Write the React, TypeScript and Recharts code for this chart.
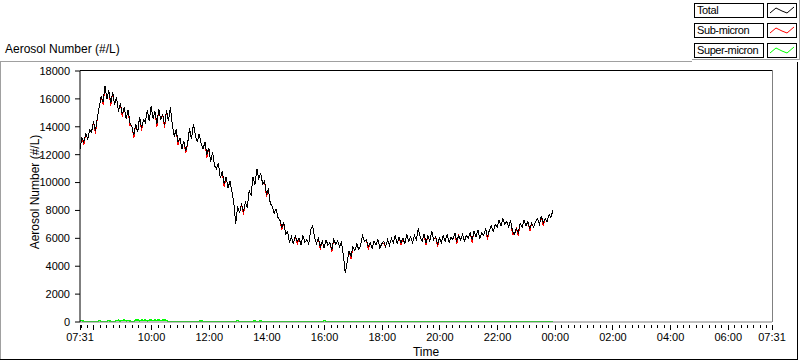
import React from 'react';
import { LineChart, Line, XAxis, YAxis } from 'recharts';

// one sample every 4 minutes, starting 07:31
const stepMinutes = 4;

const total = [
  12400, 13200, 12900, 13500, 13100, 13800, 13600, 14400, 13700, 14600,
  15400, 16200, 15800, 16900, 16000, 16600, 15700, 16500, 15600, 16100,
  15100, 15700, 14900, 15400, 14600, 15200, 14300, 14000, 13400, 14200,
  13600, 14700, 13900, 14500, 14300, 15200, 14400, 15500, 14600, 15100,
  14200, 15300, 14500, 14900, 14100, 15200, 14400, 15400, 14200, 13300,
  13800, 12900, 13200, 12400, 13000, 12300, 12800, 13900, 13100, 14200,
  13400, 12900, 13500, 12800, 12400, 12900, 12000, 12500, 11500, 12200,
  11200, 11000, 11400, 10300, 10800, 9900, 10400, 9600, 10100, 9400,
  8600, 7000, 8300, 7800, 8500, 7900, 8600, 8200, 9400, 9100,
  10400, 9800, 11000, 10300, 10700, 9900, 10100, 9200, 9500, 8500,
  8300, 7800, 8100, 7500, 7300, 6800, 7100, 6300, 6500, 5700,
  6100, 5600, 6200, 5800, 6000, 5500, 6200, 5700, 5900, 5600,
  6600, 6900, 6100, 5600, 6000, 5400, 5800, 5300, 5900, 5500,
  5700, 5200, 5900, 5600, 5800, 5400, 5700, 4800, 3500, 4300,
  5100, 4700, 5400, 5100, 5600, 5200, 5500, 6200, 5800, 5900,
  5400, 5700, 5300, 5800, 5500, 5900, 5300, 5600, 5800, 5400,
  5900, 5500, 6000, 5700, 6200, 5600, 6100, 5700, 6000, 5600,
  6300, 5800, 6100, 5700, 6200, 5900, 6700, 6100, 5800, 6300,
  5700, 6200, 5800, 6500, 5900, 6100, 5600, 6000, 5700, 6200,
  5800, 6300, 5700, 6100, 5900, 6400, 5800, 6200, 5900, 6300,
  5800, 6200, 6000, 6400, 5900, 6500, 6100, 6600, 6000, 6400,
  6200, 6700, 6100, 6600, 6900, 6500, 7000, 6800, 7300, 6900,
  7400, 7000, 7200, 6800, 7300, 6500, 6300, 6700, 6400, 7100,
  6800, 7300, 6900, 7200, 6700, 7100, 6800, 7200, 7400, 7000,
  7600, 7100, 7400, 7200, 7700, 7500, 8000,
];

const subMicron = [
  12400, 13200, 12700, 13500, 13100, 13800, 13600, 14400, 13500, 14600,
  15400, 16200, 15600, 16900, 16000, 16600, 15500, 16500, 15600, 16100,
  15100, 15700, 14700, 15400, 14600, 15200, 14100, 14000, 13200, 14200,
  13600, 14700, 13700, 14500, 14300, 15200, 14400, 15500, 14600, 15100,
  14000, 15300, 14500, 14900, 13900, 15200, 14400, 15400, 14200, 13300,
  13800, 12700, 13200, 12400, 13000, 12100, 12800, 13900, 13100, 14200,
  13400, 12900, 13500, 12800, 12400, 12900, 11800, 12500, 11500, 12200,
  11200, 11000, 11400, 10300, 10800, 9700, 10400, 9600, 10100, 9400,
  8600, 7000, 8300, 7800, 8500, 7700, 8600, 8200, 9400, 9100,
  10400, 9800, 11000, 10300, 10700, 9900, 10100, 9000, 9500, 8500,
  8300, 7800, 8100, 7500, 7300, 6600, 7100, 6300, 6500, 5700,
  6100, 5600, 6200, 5600, 6000, 5500, 6200, 5700, 5900, 5600,
  6600, 6900, 6100, 5600, 6000, 5200, 5800, 5300, 5900, 5500,
  5700, 5000, 5900, 5600, 5800, 5400, 5700, 4800, 3500, 4300,
  5100, 4500, 5400, 5100, 5600, 5200, 5500, 6200, 5800, 5900,
  5200, 5700, 5300, 5800, 5500, 5900, 5300, 5600, 5600, 5400,
  5900, 5500, 6000, 5700, 6200, 5600, 6100, 5500, 6000, 5600,
  6300, 5800, 6100, 5700, 6200, 5900, 6700, 6100, 5800, 6300,
  5500, 6200, 5800, 6500, 5900, 6100, 5400, 6000, 5700, 6200,
  5800, 6300, 5700, 6100, 5900, 6400, 5600, 6200, 5900, 6300,
  5800, 6200, 6000, 6400, 5700, 6500, 6100, 6600, 6000, 6400,
  6200, 6700, 5900, 6600, 6900, 6500, 7000, 6800, 7300, 6900,
  7400, 7000, 7200, 6800, 7300, 6300, 6300, 6700, 6200, 7100,
  6800, 7300, 6900, 7200, 6500, 7100, 6800, 7200, 7400, 7000,
  7600, 6900, 7400, 7200, 7700, 7500, 8000,
];

const superMicron = [
  90, 120, 40, 30, 50, 30, 40, 30, 40, 30,
  110, 40, 30, 40, 30, 120, 40, 30, 30, 100,
  140, 60, 120, 150, 80, 130, 60, 40, 30, 130,
  150, 90, 140, 110, 150, 70, 130, 150, 100, 140,
  120, 150, 90, 130, 160, 100, 40, 30, 30, 40,
  30, 40, 30, 30, 40, 30, 30, 30, 40, 30,
  30, 30, 40, 110, 40, 30, 30, 40, 30, 30,
  30, 40, 30, 30, 40, 30, 30, 30, 40, 30,
  30, 40, 120, 40, 30, 30, 40, 30, 30, 30,
  40, 110, 30, 30, 100, 30, 30, 40, 30, 30,
  30, 40, 30, 30, 40, 30, 30, 30, 40, 30,
  30, 40, 30, 30, 40, 30, 30, 30, 40, 30,
  30, 40, 30, 30, 40, 30, 30, 110, 40, 30,
  30, 40, 30, 30, 40, 30, 30, 30, 40, 30,
  30, 40, 30, 30, 40, 30, 30, 30, 40, 30,
  30, 40, 30, 30, 40, 30, 30, 30, 40, 30,
  30, 40, 30, 30, 40, 30, 30, 30, 40, 30,
  30, 40, 30, 30, 40, 30, 30, 30, 40, 30,
  30, 40, 30, 30, 40, 30, 30, 30, 40, 30,
  30, 40, 30, 30, 40, 30, 30, 30, 40, 30,
  30, 40, 30, 30, 40, 30, 30, 30, 40, 30,
  30, 40, 30, 30, 40, 30, 30, 30, 40, 30,
  30, 40, 30, 30, 40, 30, 30, 30, 40, 30,
  30, 40, 30, 30, 40, 30, 30, 30, 40, 30,
  30, 40, 30, 30, 40, 30, 30,
];

const seriesNames = ['Total', 'Sub-micron', 'Super-micron'];
const seriesColors = ['#000000', '#ff0000', '#00ff00'];

const yTicks = [0, 2000, 4000, 6000, 8000, 10000, 12000, 14000, 16000, 18000];
const timeLabels = ['07:31', '10:00', '12:00', '14:00', '16:00', '18:00', '20:00', '22:00', '00:00', '02:00', '04:00', '06:00', '07:31'];
const timeLabelMinutes = [0, 149, 269, 389, 509, 629, 749, 869, 989, 1109, 1229, 1349, 1440];

const data = total.map((v, i) => ({
  t: i * stepMinutes,
  total: v,
  sub: subMicron[i],
  sup: superMicron[i],
}));

// minor ticks every 13.33 min, aligned on 08:00 (29 min after start)
const xTicks: number[] = [0, 1440];
for (let k = -2; k <= 105; k++) {
  const m = Math.round((29 + (k * 40) / 3) * 1000) / 1000;
  if (m > 0 && m < 1440) xTicks.push(m);
}

const font = "'Liberation Sans', Arial, sans-serif";

const TimeTick = (props: any) => {
  const { x, y, payload } = props;
  const v = payload.value;
  const idx = timeLabelMinutes.findIndex((m) => Math.abs(m - v) < 0.01);
  const major = idx >= 0 || Math.abs((((v - 29) % 120) + 120) % 120) < 0.01;
  return (
    <g>
      <line x1={x} x2={x} y1={y + 1} y2={y + (major ? 6 : 4)} stroke="#000" shapeRendering="crispEdges" />
      {idx >= 0 && (
        <text x={x} y={y + 17} textAnchor="middle" fill="#000" fontSize={11} fontFamily={font}>
          {timeLabels[idx]}
        </text>
      )}
    </g>
  );
};

const abs = (s: React.CSSProperties): React.CSSProperties => ({ position: 'absolute', ...s });

export default function App() {
  return (
    <div style={abs({ left: 0, top: 0, width: 800, height: 361, background: '#fff', fontFamily: font, color: '#000', overflow: 'hidden' })}>
      <LineChart width={800} height={361} data={data} margin={{ top: 71, right: 28, bottom: 0, left: 0 }}>
        <XAxis
          dataKey="t"
          type="number"
          domain={[0, 1440]}
          ticks={xTicks}
          interval={0}
          tickLine={false}
          tickSize={0}
          tick={<TimeTick />}
          axisLine={{ stroke: '#808080' }}
          height={39}
          allowDataOverflow
        />
        <YAxis
          domain={[0, 18000]}
          ticks={yTicks}
          interval={0}
          width={80}
          tickSize={5}
          tickMargin={5}
          axisLine={{ stroke: '#000' }}
          tickLine={{ stroke: '#000' }}
          tick={{ fill: '#000', fontSize: 11, fontFamily: font }}
          allowDataOverflow
        />
        <Line dataKey="sup" stroke={seriesColors[2]} strokeWidth={1.5} dot={false} isAnimationActive={false} shapeRendering="crispEdges" />
        <Line dataKey="sub" stroke={seriesColors[1]} strokeWidth={1} dot={false} isAnimationActive={false} shapeRendering="crispEdges" />
        <Line dataKey="total" stroke={seriesColors[0]} strokeWidth={1} dot={false} isAnimationActive={false} shapeRendering="crispEdges" />
      </LineChart>

      {/* plot frame: top black, right gray */}
      <div style={abs({ left: 80, top: 70, width: 692, height: 1, background: '#000' })} />
      <div style={abs({ left: 772, top: 70, width: 1, height: 252, background: '#808080' })} />

      {/* outer panel */}
      <div style={abs({ left: 0, top: 61, width: 692, height: 1, background: '#a0a0a0' })} />
      <div style={abs({ left: 0, top: 61, width: 1, height: 299, background: '#a0a0a0' })} />
      <div style={abs({ left: 0, top: 359, width: 798, height: 1, background: '#000' })} />
      <div style={abs({ left: 797, top: 62, width: 1, height: 298, background: '#000' })} />

      <div style={abs({ left: 5, top: 42, fontSize: 12, lineHeight: '14px', whiteSpace: 'nowrap' })}>Aerosol Number (#/L)</div>
      <div style={abs({ left: 35, top: 192, fontSize: 12, lineHeight: '14px', whiteSpace: 'nowrap', transform: 'translate(-50%, -50%) rotate(-90deg)' })}>
        Aerosol Number (#/L)
      </div>
      <div style={abs({ left: 426, top: 345, fontSize: 12, lineHeight: '14px', transform: 'translateX(-50%)' })}>Time</div>

      {/* legend */}
      <div style={abs({ left: 692, top: 0, width: 107, height: 59, borderRight: '1px solid #a0a0a0', borderBottom: '1px solid #a0a0a0' })} />
      {seriesNames.map((name, i) => (
        <React.Fragment key={name}>
          <div
            style={abs({
              left: 694,
              top: 3 + i * 20,
              width: 70,
              height: 15,
              boxSizing: 'border-box',
              border: '1px solid #000',
              fontSize: 11,
              letterSpacing: '-0.4px',
              lineHeight: '13px',
              paddingLeft: 2,
              whiteSpace: 'nowrap',
            })}
          >
            {name}
          </div>
          <svg style={abs({ left: 767, top: 3 + i * 20 })} width={30} height={15}>
            <rect x={0.5} y={0.5} width={29} height={14} fill="#fff" stroke="#000" />
            <polyline points="3,10 9,5 15,8 20,10 27,4" fill="none" stroke={seriesColors[i]} strokeWidth={1} />
          </svg>
        </React.Fragment>
      ))}
    </div>
  );
}
